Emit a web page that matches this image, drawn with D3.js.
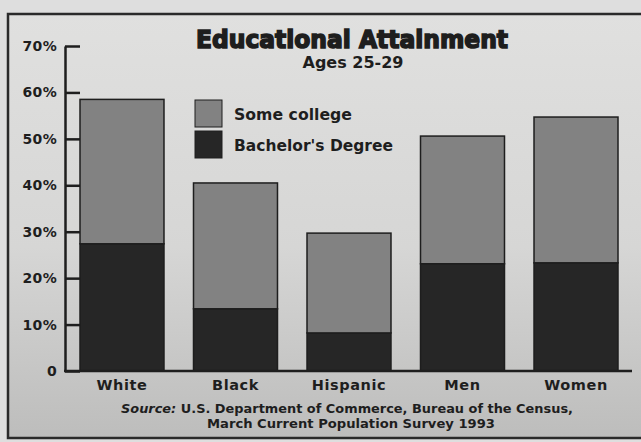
<!DOCTYPE html>
<html>
<head>
<meta charset="utf-8">
<script src="https://cdn.jsdelivr.net/npm/d3@7"></script>
<style>
  html, body { margin: 0; padding: 0; background: #dedede; }
  svg { display: block; }
  text { font-family: "DejaVu Sans", "Liberation Sans", sans-serif; font-weight: bold; fill: #1e1e1e; }
</style>
</head>
<body>
<svg id="chart" width="641" height="442"></svg>
<script>
// ---- data (percent of persons aged 25-29) ----
const categories = ["White", "Black", "Hispanic", "Men", "Women"];
const bachelors = [27.4, 13.4, 8.2, 23.1, 23.3];
const someCollege = [31.1, 27.1, 21.5, 27.5, 31.4];
const seriesNames = ["Some college", "Bachelor's Degree"];
const yTicks = [0, 10, 20, 30, 40, 50, 60, 70];
const yTickLabels = ["0", "10%", "20%", "30%", "40%", "50%", "60%", "70%"];

const svg = d3.select("#chart");
const W = 641, H = 442;

// background with a slight vertical shading like the print
const defs = svg.append("defs");
const grad = defs.append("linearGradient").attr("id", "bg").attr("x1", 0).attr("y1", 0).attr("x2", 0).attr("y2", 1);
grad.append("stop").attr("offset", "0%").attr("stop-color", "#e0e0df");
grad.append("stop").attr("offset", "55%").attr("stop-color", "#d6d6d5");
grad.append("stop").attr("offset", "100%").attr("stop-color", "#bdbdbc");
svg.append("rect").attr("width", W).attr("height", H).attr("fill", "#dedede");
svg.append("rect").attr("x", 8).attr("y", 14).attr("width", W + 10).attr("height", 424)
  .attr("fill", "url(#bg)").attr("stroke", "#2a2a2a").attr("stroke-width", 2.5);

// scales
const x = d3.scaleBand().domain(categories).range([80, 618]).paddingInner(0.26).paddingOuter(0);
const y = d3.scaleLinear().domain([0, 70]).range([371, 46]);

// stacked data
const rows = categories.map((c, i) => ({ cat: c, bach: bachelors[i], some: someCollege[i] }));
const stack = d3.stack().keys(["bach", "some"])(rows);
const fills = { bach: "#262626", some: "#828282" };

svg.append("g").selectAll("g").data(stack).join("g")
  .attr("fill", d => fills[d.key])
  .selectAll("rect").data(d => d).join("rect")
  .attr("x", d => x(d.data.cat))
  .attr("width", x.bandwidth())
  .attr("y", d => y(d[1]))
  .attr("height", d => y(d[0]) - y(d[1]))
  .attr("stroke", "#1e1e1e").attr("stroke-width", 1.5);

// y axis
const yAxis = d3.axisLeft(y).tickValues(yTicks)
  .tickFormat((d, i) => yTickLabels[i])
  .tickSizeInner(-15).tickSizeOuter(0).tickPadding(8);
const gy = svg.append("g").attr("transform", "translate(65,0)").call(yAxis);
gy.select(".domain").attr("stroke", "#1e1e1e").attr("stroke-width", 2.5);
gy.selectAll(".tick line").attr("stroke", "#1e1e1e").attr("stroke-width", 2.5);
gy.selectAll(".tick text").attr("font-size", 14).attr("fill", "#1e1e1e")
  .style("font-family", "DejaVu Sans").style("font-weight", "bold").style("letter-spacing", "0.3px");

// x baseline and category labels
svg.append("line").attr("x1", 64).attr("x2", 632).attr("y1", y(0)).attr("y2", y(0))
  .attr("stroke", "#1e1e1e").attr("stroke-width", 2.5);
const xAxis = d3.axisBottom(x).tickSize(0).tickPadding(9);
const gx = svg.append("g").attr("transform", `translate(0,${y(0)})`).call(xAxis);
gx.select(".domain").remove();
gx.selectAll(".tick text").attr("font-size", 14.5).attr("fill", "#1e1e1e")
  .style("font-family", "DejaVu Sans").style("font-weight", "bold").style("letter-spacing", "0.6px");

// title
svg.append("text").attr("x", 352).attr("y", 48).attr("text-anchor", "middle")
  .attr("font-size", 25).attr("textLength", 312).attr("lengthAdjust", "spacingAndGlyphs")
  .style("font-weight", 900).style("stroke", "#1e1e1e").style("stroke-width", 1.6)
  .text("Educational Attainment");
svg.append("text").attr("x", 353).attr("y", 68).attr("text-anchor", "middle")
  .attr("font-size", 15).attr("textLength", 101).attr("lengthAdjust", "spacingAndGlyphs")
  .text("Ages 25-29");

// legend
const legend = svg.append("g");
const legendKeys = ["some", "bach"];
const legendWidths = [118, 159];
legendKeys.forEach((k, i) => {
  const ly = 100 + i * 31;
  legend.append("rect").attr("x", 195).attr("y", ly).attr("width", 27).attr("height", 27)
    .attr("fill", fills[k]).attr("stroke", "#1e1e1e").attr("stroke-width", 1);
  legend.append("text").attr("x", 234).attr("y", ly + 20).attr("font-size", 15)
    .attr("textLength", legendWidths[i]).attr("lengthAdjust", "spacingAndGlyphs")
    .text(seriesNames[i]);
});

// source
const src = svg.append("text").attr("x", 347).attr("y", 413).attr("text-anchor", "middle").attr("font-size", 12.5)
  .attr("textLength", 452).attr("lengthAdjust", "spacingAndGlyphs");
src.append("tspan").style("font-style", "italic").text("Source: ");
src.append("tspan").text("U.S. Department of  Commerce, Bureau of the Census,");
svg.append("text").attr("x", 351).attr("y", 428).attr("text-anchor", "middle").attr("font-size", 12.5)
  .attr("textLength", 288).attr("lengthAdjust", "spacingAndGlyphs")
  .text("March Current Population Survey 1993");
</script>
</body>
</html>
